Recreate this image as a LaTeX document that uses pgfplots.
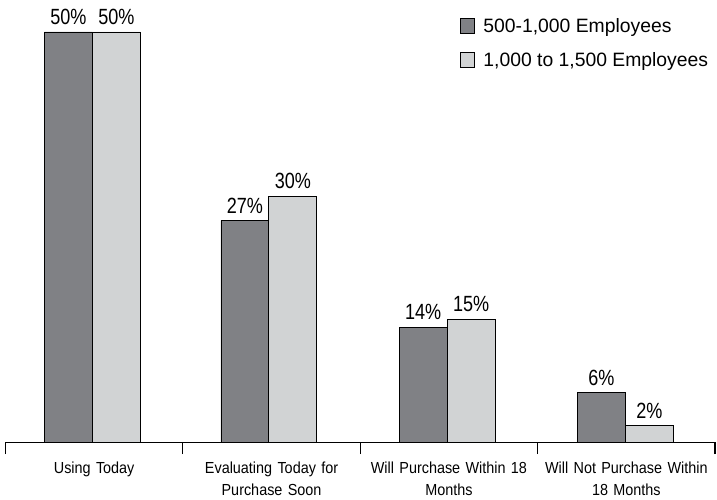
\documentclass[border=0pt]{standalone}
\usepackage{fontspec}
\setmainfont{Liberation Sans}
\newfontfamily\barfont[FakeStretch=0.82]{Liberation Sans}
\newfontfamily\catfont[FakeStretch=0.9]{Liberation Sans}
\usepackage{pgfplots}
\pgfplotsset{compat=1.18}

\definecolor{darkbar}{RGB}{128,129,133}
\definecolor{lightbar}{RGB}{209,211,212}

\begin{document}
\begin{tikzpicture}
\begin{axis}[
  scale only axis,
  width=532.1pt, height=326pt,
  ybar=0pt,
  bar width=0.27,
  xmin=-0.5, xmax=3.5,
  ymin=0, ymax=53,
  axis y line=none,
  axis x line*=bottom,
  axis line style={line width=0.8pt},
  xtick={0,1,2,3},
  xticklabels={Using Today,
               Evaluating Today for\\Purchase Soon,
               Will Purchase Within 18\\Months,
               Will Not Purchase Within\\18 Months},
  major tick length=0pt,
  minor xtick={-0.5,0.5,1.5,2.5,3.5},
  minor tick length=9pt,
  tick align=outside,
  minor tick style={line width=0.8pt, black},
  x tick label style={font=\catfont\fontsize{12}{16.5}\selectfont,
                      align=center, text width=130pt, yshift=-11.5pt},
  nodes near coords={\pgfmathprintnumber[assume math mode=true]{\pgfplotspointmeta}\%},
  every node near coord/.append style={font=\barfont\fontsize{16.5}{18}\selectfont,
                                       anchor=base, yshift=5.5pt, inner sep=0pt},
  legend style={at={(1,1)}, anchor=north east, draw=none, fill=none,
                font=\fontsize{14.5}{18}\selectfont,
                row sep=9.5pt, yshift=-4pt, xshift=0pt,
                /tikz/every odd column/.append style={column sep=4pt}},
  legend cell align=left,
]
% bars sit a little left of the category centres
\addplot[fill=darkbar, draw=black, line width=0.7pt,
  legend image code/.code={\draw[fill=darkbar, draw=black, line width=0.7pt] (0pt,-5.6pt) rectangle (11.2pt,5.6pt);}]
  coordinates {(-0.01,50) (0.985,27) (1.99,14) (2.995,6)};
\addplot[fill=lightbar, draw=black, line width=0.7pt,
  legend image code/.code={\draw[fill=lightbar, draw=black, line width=0.7pt] (0pt,-5.6pt) rectangle (11.2pt,5.6pt);}]
  coordinates {(-0.01,50) (0.985,30) (1.99,15) (2.995,2)};
\legend{{500-1,000 Employees}, {1,000 to 1,500 Employees}}
\end{axis}
\pgfresetboundingbox
\path (current axis.south west) ++(-4.1pt,-42.75pt) coordinate (bbsw);
\path (current axis.north east) ++(1.5pt,5.55pt) coordinate (bbne);
\path[use as bounding box] (bbsw) rectangle (bbne);
\end{tikzpicture}
\end{document}
